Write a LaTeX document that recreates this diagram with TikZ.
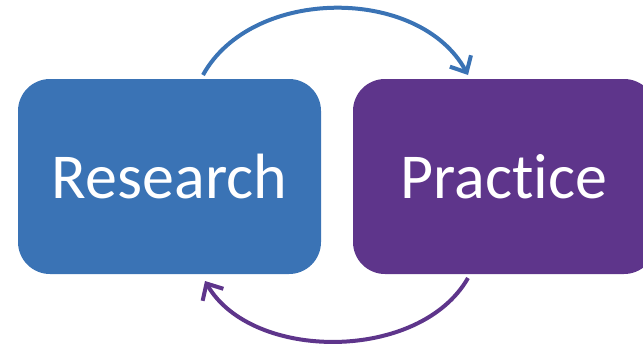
\documentclass[tikz,border=0pt]{standalone}
\usepackage{fontspec}
\setmainfont[Ligatures={NoCommon,NoDiscretionary,NoRare},Contextuals={NoAlternate},RawFeature={-liga;-clig;-dlig;-calt}]{Carlito}
\usetikzlibrary{arrows.meta}
\definecolor{rblue}{HTML}{3A73B5}
\definecolor{rpurple}{HTML}{5E358B}
\begin{document}
\begin{tikzpicture}[x=1pt,y=-1pt,
  lbl/.style={inner sep=0pt, text=white, font=\fontsize{64}{70}\selectfont},
  cyc/.style={line width=4pt, -{Straight Barb[length=13pt,width=24pt,line width=4pt]}}]
\useasboundingbox (0,0) rectangle (643,349);
\begin{scope}
\clip (0,0) rectangle (643,349);
\fill[rblue, rounded corners=32pt] (18,79) rectangle (321,274);
\fill[rpurple, rounded corners=32pt] (353,79) rectangle (656,274);
\node[lbl] (research) at (169.5,176.5) {Research};
\node[lbl] (practice) at (504,176.5) {Prac\kern0pt ti\kern0pt ce};
\coordinate (rtop) at (203,75);
\coordinate (ptop) at (468,75);
\coordinate (pbot) at (468,278);
\coordinate (rbot) at (205,281);
\draw[cyc, rblue] (rtop) .. controls (252,-14) and (420,-14) .. (ptop);
\draw[cyc, rpurple] (pbot) .. controls (420,362) and (252,362) .. (rbot);
\end{scope}
\end{tikzpicture}
\end{document}
